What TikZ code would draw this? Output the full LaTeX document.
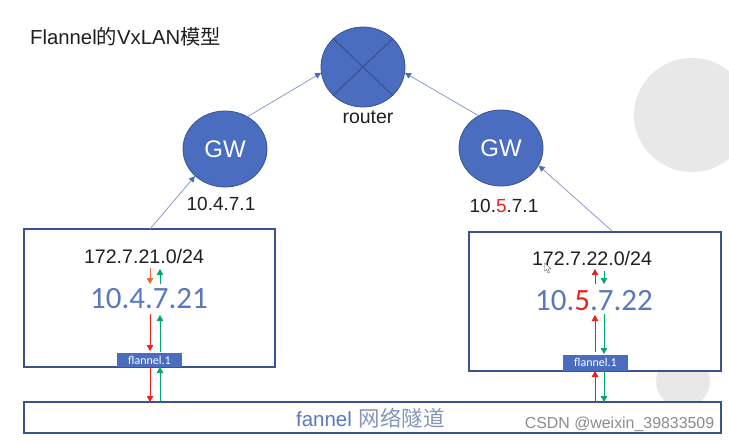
\documentclass[tikz,border=0pt]{standalone}
\usepackage{fontspec}
\setmainfont{Liberation Sans}
\newfontfamily\cali{Carlito}
\newfontfamily\cjk{Noto Sans CJK SC}
\usetikzlibrary{arrows.meta,shapes.geometric}
\definecolor{mblue}{HTML}{4A6DBF}
\definecolor{edgeb}{HTML}{3A5390}
\definecolor{linkb}{HTML}{8A9CC8}
\definecolor{ipb}{HTML}{5B78BE}
\definecolor{cjkb}{HTML}{8496BC}
\definecolor{gred}{HTML}{F0201A}
\definecolor{ggreen}{HTML}{00A86B}
\definecolor{gorange}{HTML}{F26A30}
\definecolor{disc}{HTML}{E8E8E8}
\tikzset{
  x=1pt,y=-1pt,
  hostbox/.style={draw=edgeb,line width=1.5pt,fill=white,inner sep=0pt},
  roundnode/.style={ellipse,draw=edgeb,line width=0.8pt,fill=mblue,inner sep=0pt},
  tag/.style={fill=mblue,text=white,inner sep=0pt,font=\cali\fontsize{12}{14}\selectfont},
  link/.style={draw=linkb,line width=0.8pt,-{Triangle[length=6pt,width=6pt,color=mblue]}},
  flowr/.style={draw=gred,line width=0.8pt,-{Triangle[length=6pt,width=6.5pt]}},
  flowg/.style={draw=ggreen,line width=0.8pt,-{Triangle[length=6pt,width=6.5pt]}},
  flowo/.style={draw=gorange,line width=0.8pt,-{Triangle[length=6pt,width=6.5pt]}},
  lbl/.style={inner sep=0pt,text=black!88},
}
\begin{document}
\begin{tikzpicture}
\useasboundingbox (0,0) rectangle (729,442);
\clip (0,0) rectangle (729,442);
% background discs
\fill[disc] (692,115) ellipse [x radius=58,y radius=57];
\fill[disc] (683,381) circle [radius=27];
% title
\node[lbl,anchor=west] (title) at (30,37) {\fontsize{20.3}{24}\selectfont Flannel{\cjk 的}VxLAN{\cjk 模型}};
% round nodes
\node[roundnode,minimum width=84pt,minimum height=80pt] (router) at (363,67) {};
\draw[edgeb,line width=1.2pt] (router.north west) -- (router.south east);
\draw[edgeb,line width=1.2pt] (router.north east) -- (router.south west);
\node[lbl,font=\fontsize{19.5}{22}\selectfont] (routerlbl) at (368,117) {router};
\node[roundnode,minimum width=84pt,minimum height=76pt,text=white,font=\fontsize{24}{28}\selectfont] (gwl) at (225,149) {GW};
\node[roundnode,minimum width=84pt,minimum height=76pt,text=white,font=\fontsize{24}{28}\selectfont] (gwr) at (501,148) {GW};
\node[lbl,font=\fontsize{19}{22}\selectfont] (ipl) at (221,204) {10.4.7.1};
\node[lbl,font=\fontsize{19}{22}\selectfont] (ipr) at (504,206) {10.{\color{gred}5}.7.1};
% boxes
\node[hostbox,minimum width=251pt,minimum height=138pt] (hostl) at (149.5,298) {};
\node[hostbox,minimum width=252pt,minimum height=139pt] (hostr) at (595,301.5) {};
\node[hostbox,minimum width=697pt,minimum height=31pt] (tunnel) at (372.5,417.5) {};
% tunnel label
\node[inner sep=0pt,text=ipb,font=\fontsize{20.5}{24}\selectfont] (tunnellbl) at (370.5,418) {fannel\hspace{7pt}{\color{cjkb}\cjk\fontsize{21.5}{24}\selectfont 网络隧道}};
% subnets and IPs
\node[lbl,font=\fontsize{19.6}{23}\selectfont] (subl) at (144,256) {172.7.21.0/24};
\node[lbl,font=\fontsize{19.6}{23}\selectfont] (subr) at (592,258) {172.7.22.0/24};
\node[inner sep=0pt,text=ipb,font=\cali\fontsize{31}{36}\selectfont] (addrl) at (149,299) {10.4.7.21};
\node[inner sep=0pt,text=ipb,font=\cali\fontsize{31}{36}\selectfont] (addrr) at (594,301) {10.{\color{gred}5}.7.22};
% tags
\node[tag,minimum width=65pt,minimum height=14.5pt] (tagl) at (149.5,360) {flannel.1};
\node[tag,minimum width=65pt,minimum height=16pt] (tagr) at (595.5,362.5) {flannel.1};
% links
\draw[link] (gwl.55) -- (router.188);
\draw[link] (gwr.125) -- (router.-8);
\coordinate (ls) at (150,229);
\coordinate (rs) at (612,231);
\draw[link] (ls) -- (gwl.222);
\draw[link] (rs) -- (gwr.-25);
% left flows
\coordinate (a1) at (150,268); \coordinate (a2) at (150,284);
\coordinate (a3) at (160,284); \coordinate (a4) at (160,269);
\coordinate (a5) at (150,314); \coordinate (a6) at (150,351);
\coordinate (a7) at (160,352); \coordinate (a8) at (160,315);
\coordinate (a9) at (150,368); \coordinate (a10) at (150,402);
\coordinate (a11) at (160,401); \coordinate (a12) at (160,367);
\draw[flowo] (a1) -- (a2);
\draw[flowg] (a3) -- (a4);
\draw[flowr] (a5) -- (a6);
\draw[flowg] (a7) -- (a8);
\draw[flowr] (a9) -- (a10);
\draw[flowg] (a11) -- (a12);
% right flows
\coordinate (b1) at (595,284); \coordinate (b2) at (595,269);
\coordinate (b3) at (604,271); \coordinate (b4) at (604,284);
\coordinate (b5) at (595,352); \coordinate (b6) at (595,315);
\coordinate (b7) at (604,314); \coordinate (b8) at (604,354);
\coordinate (b9) at (595,401); \coordinate (b10) at (595,371);
\coordinate (b11) at (604,371); \coordinate (b12) at (604,402);
\draw[flowr] (b1) -- (b2);
\draw[flowg] (b3) -- (b4);
\draw[flowr] (b5) -- (b6);
\draw[flowg] (b7) -- (b8);
\draw[flowr] (b9) -- (b10);
\draw[flowg] (b11) -- (b12);
% mouse cursor
\draw[black!60,fill=white,line width=0.4pt] (544.5,263) -- (544.5,271) -- (546.5,269.5) -- (548,273) -- (549.5,272.3) -- (548,269) -- (551,268.8) -- cycle;
% watermark
\node[inner sep=0pt,text=black!45,font=\fontsize{15.9}{18}\selectfont] (mark) at (619.5,424) {CSDN @weixin\_39833509};
\end{tikzpicture}
\end{document}
